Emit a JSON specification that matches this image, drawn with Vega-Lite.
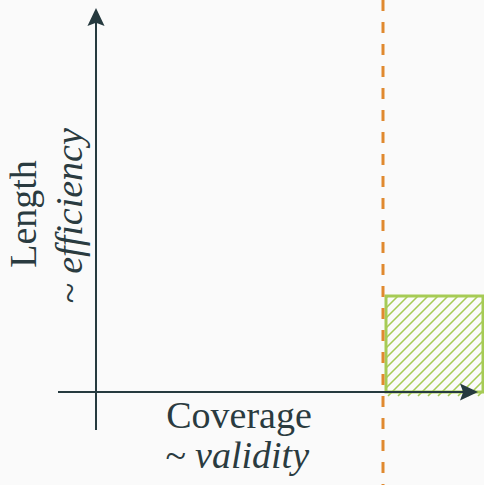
{
  "$schema": "https://vega.github.io/schema/vega-lite/v6.json",
  "width": 484,
  "height": 485,
  "autosize": "none",
  "padding": 0,
  "background": "#fafafa",
  "config": {"view": {"stroke": null}},
  "datasets": {
    "axes": [
      {"axis": "vertical", "x": 0, "y": -38, "x2": 0, "y2": 378},
      {"axis": "horizontal", "x": -38, "y": 0, "x2": 374, "y2": 0}
    ],
    "tipUp": [{"x": 0, "y": 375}],
    "tipRight": [{"x": 373, "y": 0}],
    "threshold": [{"x": 287, "y": 392, "y2": -93}],
    "region": [{"x": 290, "x2": 387, "y": 0, "y2": 96}],
    "hatch": [
      {"x": 290, "y": 94, "x2": 292, "y2": 96},
      {"x": 290, "y": 84, "x2": 302, "y2": 96},
      {"x": 290, "y": 74, "x2": 312, "y2": 96},
      {"x": 290, "y": 64, "x2": 322, "y2": 96},
      {"x": 290, "y": 54, "x2": 332, "y2": 96},
      {"x": 290, "y": 44, "x2": 342, "y2": 96},
      {"x": 290, "y": 34, "x2": 352, "y2": 96},
      {"x": 290, "y": 24, "x2": 362, "y2": 96},
      {"x": 290, "y": 14, "x2": 372, "y2": 96},
      {"x": 290, "y": 4, "x2": 382, "y2": 96},
      {"x": 292, "y": -4, "x2": 387, "y2": 91},
      {"x": 302, "y": -4, "x2": 387, "y2": 81},
      {"x": 312, "y": -4, "x2": 387, "y2": 71},
      {"x": 322, "y": -4, "x2": 387, "y2": 61},
      {"x": 332, "y": -4, "x2": 387, "y2": 51},
      {"x": 342, "y": -4, "x2": 387, "y2": 41},
      {"x": 352, "y": -4, "x2": 387, "y2": 31},
      {"x": 362, "y": -4, "x2": 387, "y2": 21},
      {"x": 372, "y": -4, "x2": 387, "y2": 11},
      {"x": 382, "y": -4, "x2": 387, "y2": 1}
    ],
    "xlabel": [{"label": "Coverage", "x": 143, "y": -36}],
    "xsub": [{"label": "~ validity", "x": 141, "y": -76}],
    "ylabel": [{"label": "Length", "x": -60, "y": 178}],
    "ysub": [{"label": "~ efficiency", "x": -14, "y": 176}]
  },
  "encoding": {
    "x": {"field": "x", "type": "quantitative", "scale": {"domain": [-96, 388], "nice": false, "zero": false}, "axis": null},
    "y": {"field": "y", "type": "quantitative", "scale": {"domain": [-93, 392], "nice": false, "zero": false}, "axis": null}
  },
  "layer": [
    {
      "data": {"name": "hatch"},
      "mark": {"type": "rule", "color": "#a6cb55", "strokeWidth": 1.6},
      "encoding": {"x2": {"field": "x2"}, "y2": {"field": "y2"}}
    },
    {
      "data": {"name": "region"},
      "mark": {"type": "rect", "fill": null, "fillOpacity": 0, "stroke": "#a6cb55", "strokeWidth": 3},
      "encoding": {"x2": {"field": "x2"}, "y2": {"field": "y2"}}
    },
    {
      "data": {"name": "axes"},
      "mark": {"type": "rule", "color": "#263a3f", "strokeWidth": 2},
      "encoding": {"x2": {"field": "x2"}, "y2": {"field": "y2"}}
    },
    {
      "data": {"name": "tipUp"},
      "mark": {"type": "point", "shape": "M0,-1 L0.95,1 L0,0.65 L-0.95,1 Z", "filled": true, "size": 324, "color": "#263a3f", "opacity": 1}
    },
    {
      "data": {"name": "tipRight"},
      "mark": {"type": "point", "shape": "M0,-1 L0.95,1 L0,0.65 L-0.95,1 Z", "angle": 90, "filled": true, "size": 324, "color": "#263a3f", "opacity": 1}
    },
    {
      "data": {"name": "threshold"},
      "mark": {"type": "rule", "color": "#e0892f", "strokeWidth": 3, "strokeDash": [11, 11]},
      "encoding": {"y2": {"field": "y2"}}
    },
    {
      "data": {"name": "xlabel"},
      "mark": {"type": "text", "font": "Liberation Serif", "fontSize": 38, "color": "#2a3b40", "align": "center", "baseline": "alphabetic"},
      "encoding": {"text": {"field": "label"}}
    },
    {
      "data": {"name": "xsub"},
      "mark": {"type": "text", "font": "Liberation Serif", "fontStyle": "italic", "fontSize": 38, "color": "#2a3b40", "align": "center", "baseline": "alphabetic"},
      "encoding": {"text": {"field": "label"}}
    },
    {
      "data": {"name": "ylabel"},
      "mark": {"type": "text", "font": "Liberation Serif", "fontSize": 38, "color": "#2a3b40", "align": "center", "baseline": "alphabetic", "angle": -90},
      "encoding": {"text": {"field": "label"}}
    },
    {
      "data": {"name": "ysub"},
      "mark": {"type": "text", "font": "Liberation Serif", "fontStyle": "italic", "fontSize": 38, "color": "#2a3b40", "align": "center", "baseline": "alphabetic", "angle": -90},
      "encoding": {"text": {"field": "label"}}
    }
  ]
}
